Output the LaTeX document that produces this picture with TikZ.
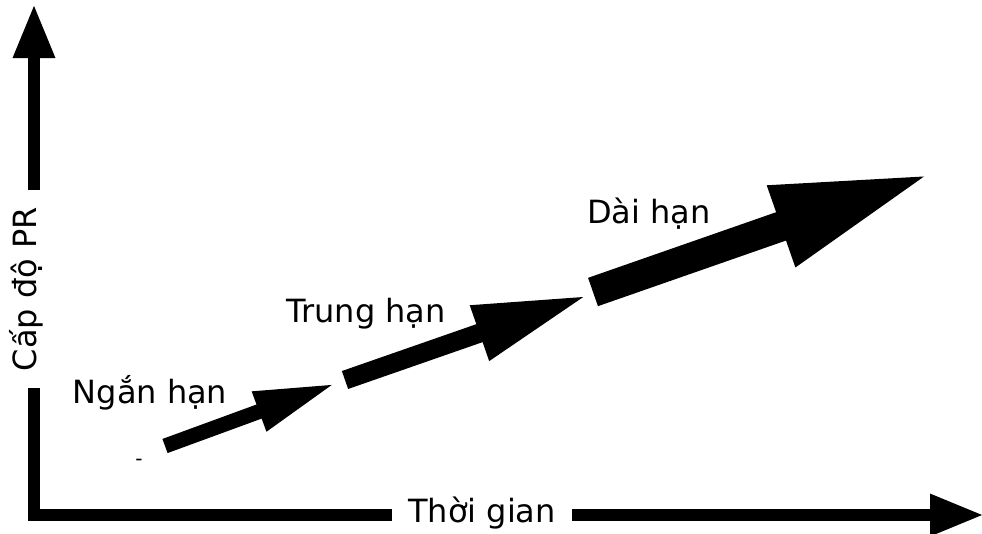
\documentclass[tikz,border=0pt]{standalone}
\usepackage{fontspec}
\setmainfont{DejaVu Sans}
\usetikzlibrary{arrows.meta, calc}

\begin{document}
\begin{tikzpicture}[x=1pt,y=-1pt,line join=miter,
    axisline/.style={line width=12pt},
    axis/.style={line width=12pt, -{Triangle[length=54pt,width=39pt]}},
    trend/.style n args={3}{line width=#1, -{Triangle[length=#2,width=#3]}},
    lbl/.style={font=\fontsize{32}{38}\selectfont, anchor=base, inner sep=0pt}]
  \useasboundingbox (0,0) rectangle (982,533);
  % axes
  \coordinate (O) at (34,515);
  \coordinate (ytip) at (34,4);
  \coordinate (xtip) at (984,515);
  \node[lbl, rotate=90, inner xsep=17pt] (ylab) at (36,289) {Cấp độ PR};
  \node[lbl, inner xsep=16pt] (xlab) at (482,522) {Thời gian};
  \draw[axisline] (O |- ylab.west) -- (O) -- (xlab.west |- O);
  \draw[axis] (O |- ylab.east) -- (ytip);
  \draw[axis] (xlab.east |- O) -- (xtip);
  % stages
  \coordinate (s1) at (165,446);
  \coordinate (e1) at (337,383);
  \coordinate (s2) at (345,380);
  \coordinate (e2) at (589,295);
  \coordinate (s3) at (593,292);
  \coordinate (e3) at (934,173);
  \draw[trend={15pt}{83pt}{38pt}] (s1) -- (e1);
  \draw[trend={19pt}{116pt}{53pt}] (s2) -- (e2);
  \draw[trend={30pt}{162pt}{77pt}] (s3) -- (e3);
  \node[lbl] (short) at (150,403) {Ngắn hạn};
  \node[lbl] (mid) at (366,322) {Trung hạn};
  \node[lbl] (long) at (649,223) {Dài hạn};
  \node[font=\fontsize{20}{24}\selectfont, inner sep=0pt] (dash) at (139,462) {-};
\end{tikzpicture}
\end{document}
